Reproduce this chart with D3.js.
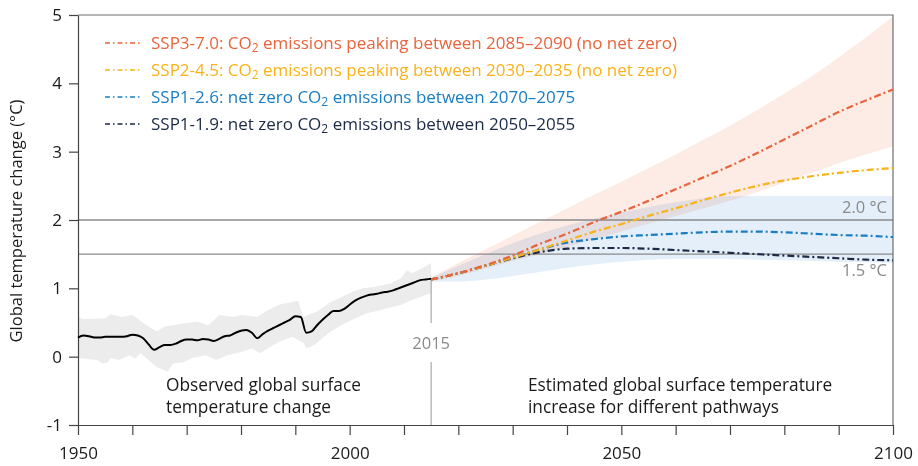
<!DOCTYPE html>
<html>
<head>
<meta charset="utf-8">
<script src="https://cdn.jsdelivr.net/npm/d3@7"></script>
<style>
  body { margin: 0; background: #fff; }
  svg { font-family: "Open Sans", sans-serif; display: block; }
</style>
</head>
<body>
<div id="chart"></div>
<script>
// observed annual series 1950-2015
const obsYears = d3.range(1950, 2016)
const obsTemp = [
  0.28,0.31,0.30,0.28,0.28,0.29,0.29,0.29,0.29,0.30,
  0.32,0.31,0.27,0.18,0.10,0.14,0.17,0.17,0.19,0.23,
  0.25,0.25,0.24,0.26,0.25,0.23,0.26,0.30,0.31,0.35,
  0.38,0.39,0.35,0.27,0.33,0.38,0.42,0.46,0.50,0.54,
  0.59,0.58,0.35,0.37,0.46,0.54,0.61,0.67,0.67,0.70,
  0.76,0.82,0.86,0.89,0.91,0.92,0.94,0.95,0.97,1.00,
  1.03,1.06,1.09,1.12,1.13,1.14
]
// uncertainty envelope of the observations
const obsUpperYears = [1950,1951,1955,1956,1958,1960,1961,1963,1964.5,1966,1967.5,1969.5,1972,1974,1976,1978.5,1980,1983,1984.5,1987,1989.5,1990.5,1991.5,1994,1996.5,1998,2000.5,2002.5,2004.5,2007.5,2009.5,2010.5,2011.5,2013,2015]
const obsUpper = [0.58,0.55,0.56,0.62,0.58,0.61,0.55,0.44,0.37,0.44,0.46,0.49,0.51,0.46,0.61,0.58,0.61,0.58,0.66,0.76,0.80,0.82,0.58,0.66,0.80,0.85,0.95,1.00,1.02,1.07,1.15,1.27,1.22,1.28,1.37]
const obsLowerYears = [1950,1953.5,1954.5,1955.5,1956,1957.5,1959.5,1960.5,1961.5,1963,1964.5,1966.5,1967.5,1969.5,1971,1973.5,1975.5,1977.5,1980,1982,1983.5,1984.5,1987,1989.5,1991.5,1992,1993.5,1996,1998,2000.5,2003,2005.5,2009.5,2011.5,2015]
const obsLower = [-0.02,-0.05,-0.10,-0.08,-0.02,-0.05,0.02,-0.03,0.05,-0.05,-0.15,-0.22,-0.10,-0.08,-0.02,0.02,-0.05,0.02,0.07,0.12,0.05,0.10,0.22,0.29,0.20,0.12,0.17,0.34,0.44,0.54,0.63,0.68,0.76,0.83,0.93]

// projections, every 5 years
const projYears = [2015,2020,2025,2030,2035,2040,2045,2050,2055,2060,2065,2070,2075,2080,2085,2090,2095,2100]
const ssp370 = [1.13,1.22,1.34,1.48,1.65,1.80,1.97,2.12,2.28,2.45,2.62,2.79,2.98,3.18,3.38,3.58,3.75,3.91]
const ssp245 = [1.13,1.22,1.33,1.45,1.57,1.70,1.83,1.94,2.06,2.17,2.29,2.40,2.50,2.58,2.64,2.69,2.73,2.76]
const ssp126 = [1.13,1.22,1.33,1.45,1.57,1.67,1.72,1.76,1.78,1.80,1.82,1.83,1.83,1.82,1.80,1.78,1.77,1.75]
const ssp119 = [1.13,1.22,1.33,1.44,1.53,1.58,1.59,1.59,1.58,1.56,1.54,1.52,1.50,1.48,1.46,1.44,1.42,1.41]
const ssp370High = [1.16,1.37,1.57,1.77,1.97,2.17,2.37,2.56,2.76,2.96,3.17,3.38,3.61,3.85,4.10,4.38,4.67,4.98]
const ssp370Low = [1.10,1.18,1.29,1.40,1.50,1.61,1.72,1.83,1.95,2.06,2.17,2.28,2.41,2.55,2.69,2.83,2.96,3.08]
const ssp126High = [1.15,1.33,1.50,1.66,1.80,1.92,2.02,2.11,2.19,2.26,2.32,2.35,2.35,2.35,2.35,2.35,2.35,2.35]
const ssp126Low = [1.10,1.10,1.13,1.18,1.24,1.30,1.35,1.39,1.42,1.43,1.43,1.43,1.42,1.41,1.40,1.39,1.38,1.37]

const scenarioNames = ["SSP3-7.0","SSP2-4.5","SSP1-2.6","SSP1-1.9"]
const scenarioColors = ["#e8643c","#fab219","#1a7dc2","#1c2a45"]
const legendPre = ["SSP3-7.0: CO","SSP2-4.5: CO","SSP1-2.6: net zero CO","SSP1-1.9: net zero CO"]
const legendPost = [" emissions peaking between 2085\u20132090 (no net zero)"," emissions peaking between 2030\u20132035 (no net zero)"," emissions between 2070\u20132075"," emissions between 2050\u20132055"]

const yTicks = [-1,0,1,2,3,4,5]
const xTicks = [1950,1960,1970,1980,1990,2000,2010,2020,2030,2040,2050,2060,2070,2080,2090,2100]
const xLabels = [1950,2000,2050,2100]
const refLevels = [2.0,1.5]
const refLabels = ["2.0\u00a0\u00b0C","1.5\u00a0\u00b0C"]

const width = 918, height = 466
const margin = {top: 15, right: 25, bottom: 41, left: 78}

const svg = d3.select("#chart").append("svg")
  .attr("width", width)
  .attr("height", height)

const x = d3.scaleLinear().domain([1950, 2100]).range([margin.left, width - margin.right])
const y = d3.scaleLinear().domain([-1, 5]).range([height - margin.bottom, margin.top])

// observed envelope
const envPts = obsUpperYears.map((yr, i) => [yr, obsUpper[i]])
  .concat(obsLowerYears.map((yr, i) => [yr, obsLower[i]]).reverse())
svg.append("path")
  .attr("d", d3.line().x(d => x(d[0])).y(d => y(d[1])).curve(d3.curveLinearClosed)(envPts))
  .attr("fill", "#ececec")

// projection ranges
const band = (lo, hi) => d3.area()
  .x((d, i) => x(projYears[i]))
  .y0((d, i) => y(lo[i]))
  .y1((d, i) => y(hi[i]))
  .curve(d3.curveMonotoneX)(projYears)

svg.append("path").attr("d", band(ssp370Low, ssp370High))
  .attr("fill", "#fdebe6").style("mix-blend-mode", "multiply")
svg.append("path").attr("d", band(ssp126Low, ssp126High))
  .attr("fill", "#e5eff9").style("mix-blend-mode", "multiply")

// 1.5 and 2.0 reference lines
svg.selectAll(".ref")
  .data(refLevels)
  .enter()
  .append("line")
  .attr("x1", x(1950)).attr("x2", x(2100))
  .attr("y1", d => y(d)).attr("y2", d => y(d))
  .attr("stroke", "#8a8a8a").attr("stroke-width", 1.3)

svg.append("text").attr("x", x(2100) - 6).attr("y", y(2.0) - 7)
  .attr("text-anchor", "end").attr("fill", "#8a8a8a").attr("font-size", 16.5)
  .text(refLabels[0])
svg.append("text").attr("x", x(2100) - 6).attr("y", y(1.5) + 22)
  .attr("text-anchor", "end").attr("fill", "#8a8a8a").attr("font-size", 16.5)
  .text(refLabels[1])

// frame top / right
svg.append("path")
  .attr("d", `M${x(1950)},${y(5)}H${x(2100)}V${y(-1)}`)
  .attr("fill", "none").attr("stroke", "#6e6e6e").attr("stroke-width", 1.2)

// axes
svg.append("g")
  .attr("transform", `translate(${margin.left},0)`)
  .call(d3.axisLeft(y).tickValues(yTicks).tickSize(9).tickSizeOuter(0).tickPadding(7)
    .tickFormat(d => String(d)))
svg.append("g")
  .attr("transform", `translate(0,${height - margin.bottom})`)
  .call(d3.axisBottom(x).tickValues(xTicks).tickSize(10).tickSizeOuter(0).tickPadding(12)
    .tickFormat(d => xLabels.includes(d) ? d : ""))
svg.selectAll(".domain, .tick line").attr("stroke", "#444").attr("stroke-width", 1.2)
svg.selectAll(".tick text").attr("font-size", 17).attr("font-family", "Open Sans").attr("fill", "#1a1a1a")

svg.append("text")
  .attr("transform", `translate(22,221) rotate(-90)`)
  .attr("text-anchor", "middle").attr("font-size", 16.5).attr("fill", "#1a1a1a")
  .text("Global temperature change (\u00b0C)")

// 2015 marker
svg.append("line").attr("x1", x(2015)).attr("x2", x(2015))
  .attr("y1", y(obsTemp[obsTemp.length - 1])).attr("y2", 323)
  .attr("stroke", "#b0b0b0").attr("stroke-width", 1.3)
svg.append("line").attr("x1", x(2015)).attr("x2", x(2015))
  .attr("y1", 362).attr("y2", y(-1))
  .attr("stroke", "#b0b0b0").attr("stroke-width", 1.3)
svg.append("text").attr("x", x(2015)).attr("y", 349)
  .attr("text-anchor", "middle").attr("fill", "#8a8a8a").attr("font-size", 16.5)
  .text("2015")

// observed line
svg.append("path")
  .datum(obsTemp)
  .attr("d", d3.line().x((d, i) => x(obsYears[i])).y(d => y(d)).curve(d3.curveMonotoneX))
  .attr("fill", "none").attr("stroke", "#000").attr("stroke-width", 2)

// scenario lines, lowest first so SSP3-7.0 sits on top
const series = [ssp370, ssp245, ssp126, ssp119]
const dash = "7,3,2,3"
for (let k = series.length - 1; k >= 0; k--) {
  svg.append("path")
    .datum(series[k])
    .attr("d", d3.line().x((d, i) => x(projYears[i])).y(d => y(d)).curve(d3.curveMonotoneX))
    .attr("fill", "none")
    .attr("stroke", scenarioColors[k])
    .attr("stroke-width", 2.2)
    .attr("stroke-dasharray", dash)
}

// legend
const legend = svg.append("g")
scenarioNames.forEach((name, k) => {
  const ly = 43 + k * 27
  legend.append("line").attr("x1", 105).attr("x2", 141).attr("y1", ly).attr("y2", ly)
    .attr("stroke", scenarioColors[k]).attr("stroke-width", 1.6).attr("stroke-dasharray", "5,3,1.5,3")
  const t = legend.append("text").attr("x", 151).attr("y", ly + 6)
    .attr("fill", scenarioColors[k]).attr("font-size", 17)
  t.append("tspan").text(legendPre[k])
  t.append("tspan").attr("dy", 3).attr("font-size", 12).text("2")
  t.append("tspan").attr("dy", -3).text(legendPost[k])
})

// region captions
const caption = (lines, x0) => {
  const t = svg.append("text").attr("font-size", 17.3).attr("fill", "#1a1a1a")
  lines.forEach((s, i) => t.append("tspan").attr("x", x0).attr("y", 391 + i * 22).text(s))
}
caption(["Observed global surface", "temperature change"], 166)
caption(["Estimated global surface temperature", "increase for different pathways"], 528)
</script>
</body>
</html>
